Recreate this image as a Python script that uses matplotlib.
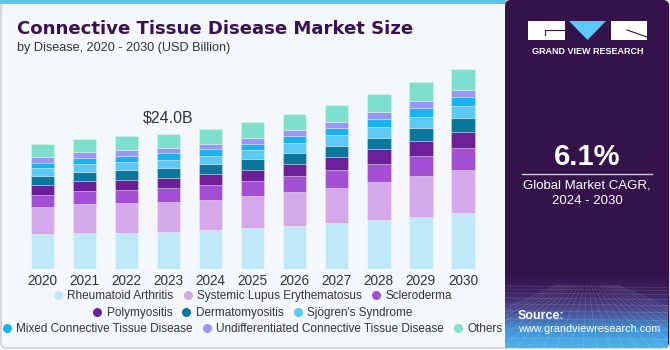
import numpy as np
import matplotlib.pyplot as plt
from matplotlib.lines import Line2D
from matplotlib.patches import Rectangle, Polygon, FancyBboxPatch
from matplotlib.colors import LinearSegmentedColormap

plt.rcParams['font.family'] = ['Liberation Sans', 'DejaVu Sans']

# Dados (USD bilhões)
anos = ['2020', '2021', '2022', '2023', '2024', '2025', '2026', '2027', '2028', '2029', '2030']
doencas = ['Rheumatoid Arthritis', 'Systemic Lupus Erythematosus', 'Scleroderma',
           'Polymyositis', 'Dermatomyositis', "Sjögren's Syndrome",
           'Mixed Connective Tissue Disease', 'Undifferentiated Connective Tissue Disease', 'Others']
rheumatoid = [6.21, 6.44, 6.49, 6.67, 6.92, 7.27, 7.68, 8.16, 8.69, 9.28, 9.99]
lupus = [4.84, 5.09, 5.21, 5.27, 5.43, 5.68, 5.98, 6.31, 6.74, 7.22, 7.63]
scleroderma = [2.13, 2.36, 2.36, 2.48, 2.61, 2.71, 2.89, 3.14, 3.25, 3.55, 3.85]
polymyositis = [1.77, 1.72, 1.83, 1.83, 1.95, 2.00, 2.18, 2.31, 2.61, 2.71, 2.94]
dermatomyositis = [1.60, 1.65, 1.67, 1.72, 1.72, 1.90, 1.90, 2.00, 2.06, 2.31, 2.48]
sjogren = [1.37, 1.37, 1.42, 1.42, 1.47, 1.60, 1.77, 1.84, 1.90, 1.95, 2.08]
mixed = [0.99, 1.17, 1.17, 1.19, 1.24, 1.12, 1.24, 1.35, 1.42, 1.60, 1.60]
undiff = [1.01, 1.01, 1.01, 0.94, 0.94, 1.06, 1.06, 1.06, 1.29, 1.24, 1.29]
others = [2.25, 2.31, 2.43, 2.48, 2.61, 2.73, 2.84, 3.02, 3.09, 3.37, 3.62]
rotulo_ano = '2023'
rotulo_txt = '$24.0B'

series = [rheumatoid, lupus, scleroderma, polymyositis, dermatomyositis, sjogren, mixed, undiff, others]
cores = ['#bfe9f9', '#d5a8ec', '#a24fd4', '#6d1f99', '#0b769c', '#5cc8f4', '#18b4ef', '#9b95f8', '#7ee0cc']

fig = plt.figure(figsize=(6.7, 3.5), dpi=100)
fig.set_facecolor('#f4f8fc')

# Camada de decoração em coordenadas de pixel
deco = fig.add_axes([0, 0, 1, 1], zorder=0)
deco.set_xlim(0, 670)
deco.set_ylim(350, 0)
deco.axis('off')
deco.add_patch(FancyBboxPatch((1, 1), 668, 347, boxstyle='round,pad=0,rounding_size=6',
                              fc='#f4f8fc', ec='#cfd3d8', lw=1.2))
deco.add_patch(Rectangle((0, 0), 506, 4, fc='#5cc6ee', ec='none'))

# Painel lateral
deco.add_patch(FancyBboxPatch((505, 0), 164, 348, boxstyle='round,pad=0,rounding_size=6',
                              fc='#33134a', ec='none'))
cmap = LinearSegmentedColormap.from_list('g', ['#33134a', '#3a2060', '#4a4a8e', '#3f8fd4', '#4ab6ec'])
grad = np.linspace(0, 1, 200).reshape(-1, 1)
deco.imshow(grad, cmap=cmap, extent=[505, 668, 348, 272], origin='upper', aspect='auto', zorder=1)
for yy in [286, 289, 293, 298, 304, 311, 319, 328, 338]:
    deco.plot([505, 668], [yy, yy + 1.5], color='white', alpha=0.16, lw=0.5, zorder=2)
for xb in np.linspace(420, 760, 26):
    deco.plot([587 + (xb - 587) * 0.18, xb], [285, 348], color='white', alpha=0.16, lw=0.5, zorder=2)
deco.set_xlim(0, 670)
deco.set_ylim(350, 0)

# Logo
deco.add_patch(Rectangle((528, 21), 37, 19, fc='white', ec='none', zorder=3))
deco.plot([545, 565], [30, 30], color='#33134a', lw=0.8, zorder=4)
deco.plot([545, 545], [30, 35], color='#33134a', lw=0.8, zorder=4)
deco.add_patch(Polygon([[569, 21], [606, 21], [587.5, 40]], fc='#5bc8f5', ec='none', zorder=3))
deco.add_patch(Rectangle((611, 21), 36, 19, fc='white', ec='none', zorder=3))
deco.plot([627, 647], [30, 37], color='#33134a', lw=0.8, zorder=4)
deco.text(587.5, 51, 'GRAND VIEW RESEARCH', color='white', fontsize=6.5, fontweight='bold',
          ha='center', va='center', zorder=4)

deco.text(587, 157, '6.1%', color='white', fontsize=21, fontweight='bold', ha='center', va='center', zorder=4)
deco.plot([522, 652], [173.5, 173.5], color='#cbc3d6', lw=1, zorder=4)
deco.text(587, 186, 'Global Market CAGR,', color='white', fontsize=9.5, ha='center', va='center', zorder=4)
deco.text(587, 201, '2024 - 2030', color='white', fontsize=9.5, ha='center', va='center', zorder=4)
deco.text(518, 316, 'Source:', color='white', fontsize=9, fontweight='bold', ha='left', va='center', zorder=4)
deco.text(518, 329, 'www.grandviewresearch.com', color='white', fontsize=7.8, ha='left', va='center', zorder=4)

# Títulos
deco.text(17, 28.5, 'Connective Tissue Disease Market Size', color='#3a1250', fontsize=13.05,
          fontweight='bold', family='DejaVu Sans', ha='left', va='center')
deco.text(17, 47.5, 'by Disease, 2020 - 2030 (USD Billion)', color='#333333', fontsize=9.1,
          ha='left', va='center')

# Gráfico de barras empilhadas
ax = fig.add_axes([21.3 / 670, 80.7 / 350, 462.7 / 670, 225.6 / 350], zorder=1)
ax.set_facecolor('none')
x = np.arange(len(anos))
base = np.zeros(len(anos))
for vals, cor, nome in zip(series, cores, doencas):
    ax.bar(x, vals, bottom=base, width=0.555, color=cor, edgecolor=(1, 1, 1, 0.5), linewidth=0.4, label=nome)
    base += np.array(vals)

i = anos.index(rotulo_ano)
ax.annotate(rotulo_txt, (x[i], base[i]), xytext=(0, 6), textcoords='offset points',
            ha='center', va='bottom', fontsize=11.5, color='#333333')

ax.set_xlim(-0.5, len(anos) - 0.5)
ax.set_ylim(0, 40)
ax.set_xticks(x)
ax.set_xticklabels(anos, fontsize=9.8, color='#333333')
ax.tick_params(axis='x', length=0, pad=3.5)
ax.set_yticks([])
for s in ax.spines.values():
    s.set_visible(False)

# Legenda em três linhas
linhas = [[0, 1, 2], [3, 4, 5], [6, 7, 8]]
ys = [296, 312.7, 329]
for idx, yy in zip(linhas, ys):
    hs = [Line2D([], [], ls='none', marker='o', markersize=6.5, markerfacecolor=cores[k],
                 markeredgecolor='none') for k in idx]
    fig.legend(hs, [doencas[k] for k in idx], loc='center', bbox_to_anchor=(252.5 / 670, 1 - yy / 350),
               ncol=len(idx), frameon=False, fontsize=8.45, handlelength=0.8, handletextpad=0.4,
               columnspacing=0.8, labelcolor='#333333', borderpad=0)

fig.savefig('out.png', dpi=100, facecolor=fig.get_facecolor())
